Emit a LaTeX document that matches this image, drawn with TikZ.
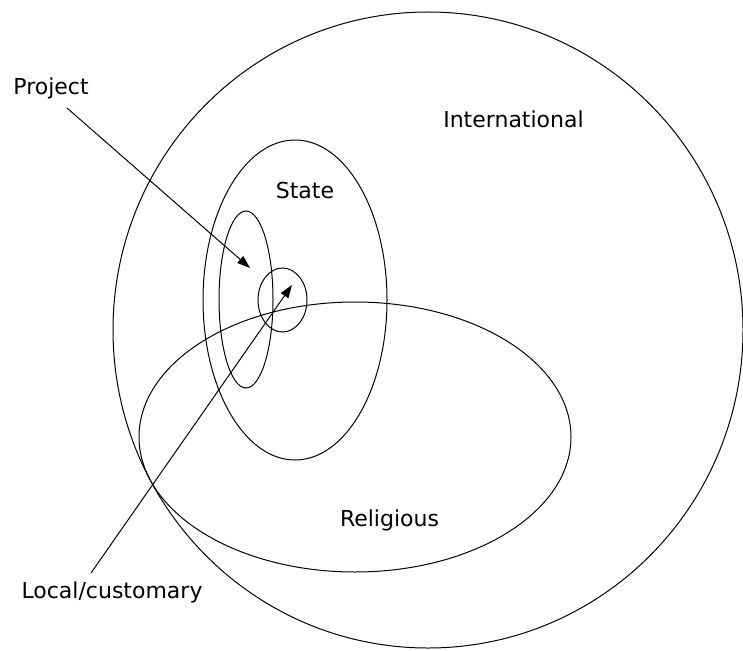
\documentclass[tikz,border=0pt]{standalone}
\usepackage{fontspec}
\setmainfont{DejaVu Sans}
\usetikzlibrary{arrows.meta,shapes.geometric}
\tikzset{
  ring/.style={draw, line width=1pt, ellipse, inner sep=0pt},
  lbl/.style={font=\fontsize{22}{25}\selectfont, anchor=base, inner sep=0pt},
  pointer/.style={line width=1pt, -{Triangle[length=13pt,width=9pt]}}
}
\begin{document}
\begin{tikzpicture}[x=1pt,y=-1pt]
\useasboundingbox (0,0) rectangle (743,650);
\node[ring, minimum width=630pt, minimum height=636pt] (intl) at (428,330) {};
\node[ring, minimum width=184pt, minimum height=320pt] (state) at (295,300) {};
\node[ring, minimum width=54pt, minimum height=177pt] (proj) at (246,299.5) {};
\node[ring, minimum width=49pt, minimum height=64pt] (local) at (282.5,300) {};
\node[ring, minimum width=432pt, minimum height=270pt] (relig) at (355,437) {};
\node[lbl] (tIntl) at (513.5,128) {International};
\node[lbl] (tState) at (305,198) {State};
\node[lbl] (tRelig) at (389.5,526) {Religious};
\node[lbl] (tProj) at (51,95) {Project};
\node[lbl] (tLocal) at (112,598) {Local/customary};
\coordinate (pTail) at (67,108);
\coordinate (pTip) at (250,268);
\coordinate (lTail) at (91,573);
\coordinate (lTip) at (292,285);
\draw[pointer] (pTail) -- (pTip);
\draw[pointer] (lTail) -- (lTip);
\end{tikzpicture}
\end{document}
